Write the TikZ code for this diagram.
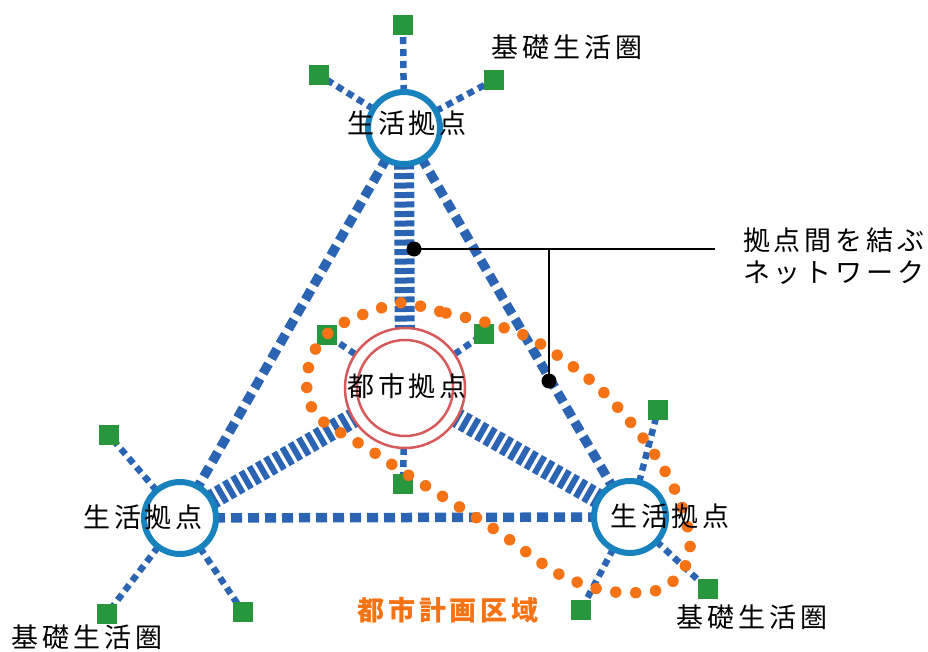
\documentclass[tikz,border=0pt]{standalone}
\usepackage{fontspec}
\newfontfamily\jp[LetterSpace=14]{Noto Sans CJK JP}
\usetikzlibrary{backgrounds}
\definecolor{netblue}{RGB}{43,100,178}
\definecolor{hubblue}{RGB}{24,130,190}
\definecolor{sqgreen}{RGB}{40,150,60}
\definecolor{cityred}{RGB}{215,90,90}
\definecolor{orng}{RGB}{245,115,20}
\begin{document}
\begin{tikzpicture}[x=1pt,y=-1pt,
  hub/.style={circle, draw=hubblue, line width=6pt, fill=white, minimum size=72pt, inner sep=0pt},
  city/.style={circle, draw=cityred, line width=2.5pt, fill=white, minimum size=120pt, inner sep=0pt},
  sq/.style={rectangle, fill=sqgreen, minimum size=20pt, inner sep=0pt},
  dot/.style={circle, fill=black, minimum size=15pt, inner sep=0pt},
  mainline/.style={netblue, line width=9.5pt, dash pattern=on 11pt off 6pt},
  ladder/.style={netblue, line width=20pt, dash pattern=on 6pt off 3.5pt},
  feeder/.style={netblue, line width=6.5pt, dash pattern=on 7pt off 5pt},
  lbl/.style={font=\jp\fontsize{27}{32}\selectfont, inner sep=0pt},
  callout/.style={black, line width=2pt}
]
\useasboundingbox (0,0) rectangle (928,651);
% hubs
\node[hub] (T) at (404,128) {};
\node[hub] (L) at (180,518) {};
\node[hub] (R) at (630,517) {};
\node[city] (C) at (405,388) {};
\draw[cityred, line width=2.5pt] (C.center) circle[radius=48];
% squares
\node[sq] (TS1) at (403,25) {};
\node[sq] (TS2) at (319,75) {};
\node[sq] (TS3) at (494,80) {};
\node[sq] (CS1) at (327,335) {};
\node[sq] (CS2) at (484,334) {};
\node[sq] (CS3) at (403,484) {};
\node[sq] (LS1) at (109,435) {};
\node[sq] (LS2) at (107,614) {};
\node[sq] (LS3) at (243,612) {};
\node[sq] (RS1) at (658,410) {};
\node[sq] (RS2) at (581,610) {};
\node[sq] (RS3) at (708,589) {};
\begin{pgfonlayer}{background}
\draw[mainline] (T.center) -- (L.center);
\draw[mainline] (T.center) -- (R.center);
\draw[mainline] (L.center) -- (R.center);
\draw[ladder] (C.center) -- (T.center);
\draw[ladder] (C.center) -- (L.center);
\draw[ladder] (C.center) -- (R.center);
\foreach \h/\s in {T/TS1,T/TS2,T/TS3,C/CS1,C/CS2,C/CS3,L/LS1,L/LS2,L/LS3,R/RS1,R/RS2,R/RS3}
  \draw[feeder] (\h.center) -- (\s.center);
\end{pgfonlayer}
% orange planning area
\draw[orng, line width=11.5pt, line cap=round, dash pattern=on 0pt off 20pt]
  plot[smooth cycle, tension=0.6] coordinates {
  (405,303) (446,313) (488,323) (528,337) (564,360) (598,387) (627,418)
  (653,452) (674,488) (686,520) (690,550) (683,570) (668,585) (648,592)
  (607,591) (567,578) (540,562) (500,533) (442,496) (405,473) (370,450)
  (333,428) (316,415) (308,396) (307,375) (313,354) (325,336) (345,322) (384,307)};
% labels
\node[lbl] (tT) at (407,123) {生活拠点};
\node[lbl] (tL) at (143,517) {生活拠点};
\node[lbl] (tR) at (670,516) {生活拠点};
\node[lbl] (tC) at (407,386) {都市拠点};
\node[lbl] (k1) at (567,47) {基礎生活圏};
\node[lbl] (k2) at (87,637) {基礎生活圏};
\node[lbl] (k3) at (752,617) {基礎生活圏};
\node[lbl, anchor=west, align=left] (net) at (743,256) {拠点間を結ぶ\\ネットワーク};
\node[lbl, font=\jp\bfseries\fontsize{27}{32}\selectfont, text=orng] (area) at (448,610) {都市計画区域};
% callout
\node[dot] (d1) at (414,249) {};
\node[dot] (d2) at (549,381) {};
\coordinate (e) at (715,249);
\coordinate (j) at (549,249);
\draw[callout] (d1.center) -- (e);
\draw[callout] (j) -- (d2.center);
\end{tikzpicture}
\end{document}
